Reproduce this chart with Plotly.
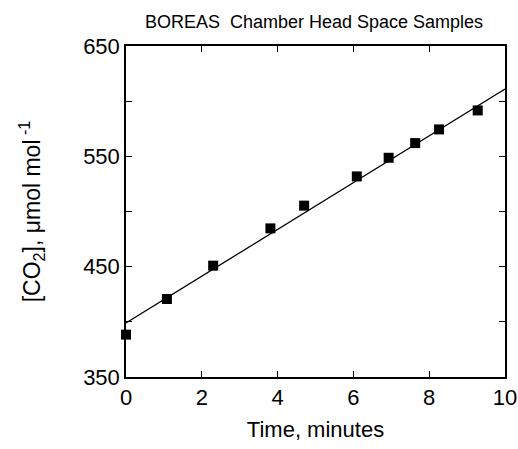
import plotly.graph_objects as go

# Measured samples
time_min = [0.0, 1.08, 2.30, 3.81, 4.70, 6.09, 6.93, 7.63, 8.26, 9.28]
co2 = [388.4, 420.7, 450.9, 484.7, 505.3, 531.8, 548.7, 562.0, 574.4, 591.6]

# Regression line end points
fit_time = [0.0, 10.0]
fit_co2 = [399.0, 611.0]

x_ticks = [0, 2, 4, 6, 8, 10]
x_ticktext = ["0", "2", "4", "6", "8", "10"]
y_ticks = [350, 450, 550, 650]
y_ticktext = ["350", "450", "550", "650"]
y_minor_step = 50

FONT = "Liberation Sans, Arial, Helvetica, sans-serif"

fig = go.Figure()
fig.add_trace(go.Scatter(x=fit_time, y=fit_co2, mode="lines",
                         line=dict(color="black", width=1.3),
                         showlegend=False, hoverinfo="skip"))
fig.add_trace(go.Scatter(x=time_min, y=co2, mode="markers",
                         marker=dict(symbol="square", size=10, color="black"),
                         showlegend=False, cliponaxis=False))

axis_common = dict(showgrid=False, zeroline=False, showline=True, linecolor="black",
                   linewidth=1.5, mirror="ticks", ticks="inside", ticklen=6,
                   tickwidth=1.2, tickcolor="black",
                   tickfont=dict(family=FONT, size=22, color="black"))

fig.update_xaxes(range=[0, 10], tickvals=x_ticks, ticktext=x_ticktext,
                 title=dict(text="Time, minutes", font=dict(family=FONT, size=22, color="black"),
                            standoff=12),
                 **axis_common)
fig.update_yaxes(range=[350, 650], tickvals=y_ticks, ticktext=y_ticktext,
                 minor=dict(dtick=y_minor_step, tick0=350, ticks="inside", ticklen=6,
                            tickwidth=1.2, tickcolor="black", showgrid=False),
                 title=dict(text="[CO<sub>2</sub>], μmol mol<sup> -1</sup>",
                            font=dict(family=FONT, size=23, color="black"), standoff=36),
                 **axis_common)

fig.update_layout(
    width=518, height=449,
    margin=dict(l=126, r=13, t=46, b=72, autoexpand=False),
    paper_bgcolor="white", plot_bgcolor="white",
    title=dict(text="BOREAS  Chamber Head Space Samples",
               font=dict(family=FONT, size=18, color="black"),
               x=314/518, xanchor="center", y=1-22/449, yanchor="middle"),
)

fig.write_html("out.html")
